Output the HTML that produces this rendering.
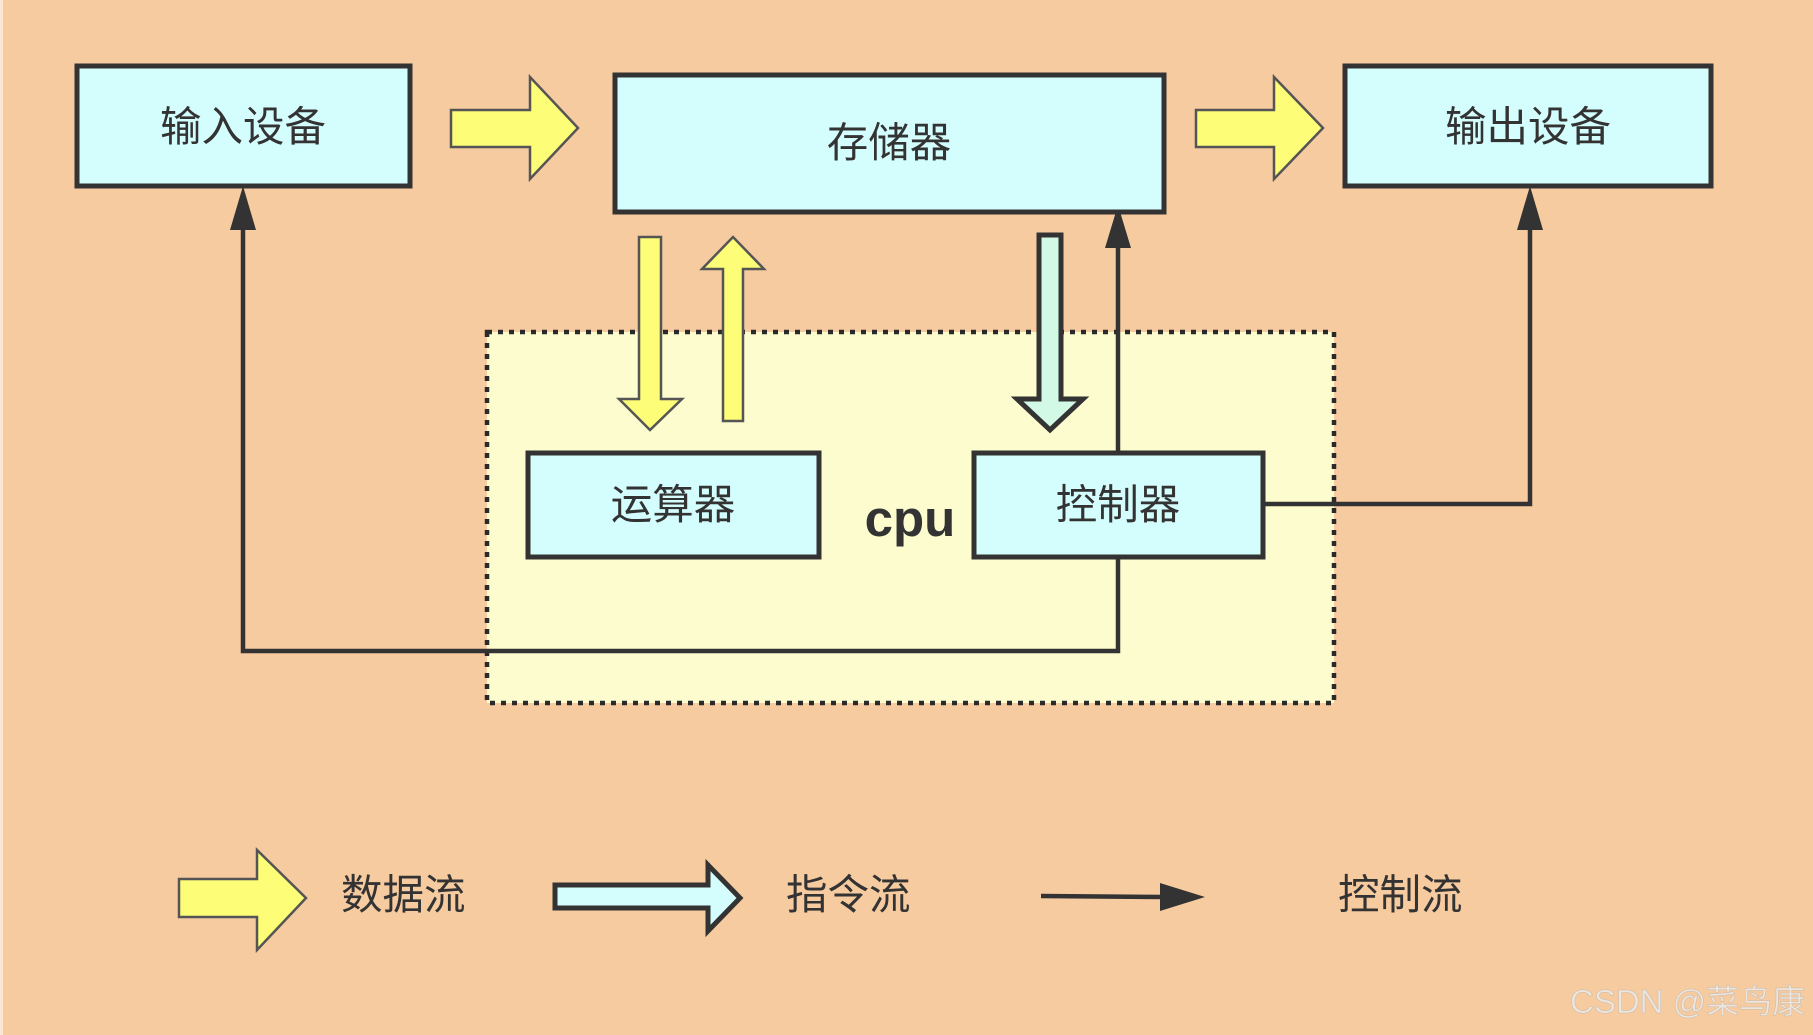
<!DOCTYPE html>
<html><head><meta charset="utf-8"><style>
html,body{margin:0;padding:0;background:#f7cba0;}
svg{display:block;}
text{font-family:"Liberation Sans","Noto Sans CJK SC",sans-serif;}
</style></head><body>
<svg width="1813" height="1035" viewBox="0 0 1813 1035" xmlns="http://www.w3.org/2000/svg">
<rect x="0" y="0" width="1813" height="1035" fill="#f7cba0"/>
<rect x="0" y="0" width="3" height="1035" fill="#fbe6d2"/>
<rect x="487" y="332" width="847" height="371" fill="#fdfccf" stroke="#2a2a2a" stroke-width="4.5" stroke-dasharray="5,6"/>
<g fill="none" stroke="#333" stroke-width="4.5">
<polyline points="1118,557 1118,651 243,651 243,225"/>
<polyline points="1263,504 1530,504 1530,225"/>
<line x1="1118" y1="453" x2="1118" y2="245"/>
</g>
<g fill="#333">
<polygon points="243,186 230,230 256,230"/>
<polygon points="1530,186 1517,230 1543,230"/>
<polygon points="1118,205 1105,248 1131,248"/>
</g>
<g fill="#d4fdfe" stroke="#333" stroke-width="5">
<rect x="77" y="66" width="333" height="120"/>
<rect x="615" y="75" width="549" height="137"/>
<rect x="1345" y="66" width="366" height="120"/>
<rect x="528" y="453" width="291" height="104"/>
<rect x="974" y="453" width="289" height="104"/>
</g>
<g font-size="41.5" fill="#333" text-anchor="middle">
<text x="243" y="141">输入设备</text>
<text x="889" y="157">存储器</text>
<text x="1528" y="141">输出设备</text>
<text x="673" y="519">运算器</text>
<text x="1118" y="519">控制器</text>
</g>
<text x="910" y="536" font-size="51" font-weight="bold" fill="#333" text-anchor="middle">cpu</text>
<g fill="#fdfd78" stroke="#555" stroke-width="2.5">
<polygon points="451,110 530,110 530,77 578,128 530,179 530,147 451,147"/>
<polygon points="1196,110 1274,110 1274,77 1323,128 1274,179 1274,147 1196,147"/>
<polygon points="639,237 661,237 661,399 682,399 650,430 619,399 639,399"/>
<polygon points="723,421 743,421 743,269 764,269 733,237 702,269 723,269"/>
<polygon points="179,879 257,879 257,850 306,898 257,950 257,917 179,917"/>
</g>
<polygon points="1039,235 1061,235 1061,399 1083,399 1050,430 1017,399 1039,399" fill="#d2f9e6" stroke="#333" stroke-width="5"/>
<polygon points="555,885 708,885 708,865 740,898 708,931 708,908 555,908" fill="#d4fdfe" stroke="#333" stroke-width="5"/>
<line x1="1041" y1="896" x2="1165" y2="897" stroke="#333" stroke-width="4.5"/>
<polygon points="1160,883 1205,897 1160,911" fill="#333"/>
<g font-size="41.5" fill="#333">
<text x="341" y="909">数据流</text>
<text x="786" y="909">指令流</text>
<text x="1338" y="909">控制流</text>
</g>
<text x="1570" y="1013" font-size="33" fill="#ece6df" stroke="#c9b8a6" stroke-width="0.5">CSDN @菜鸟康</text>
</svg>
</body></html>
